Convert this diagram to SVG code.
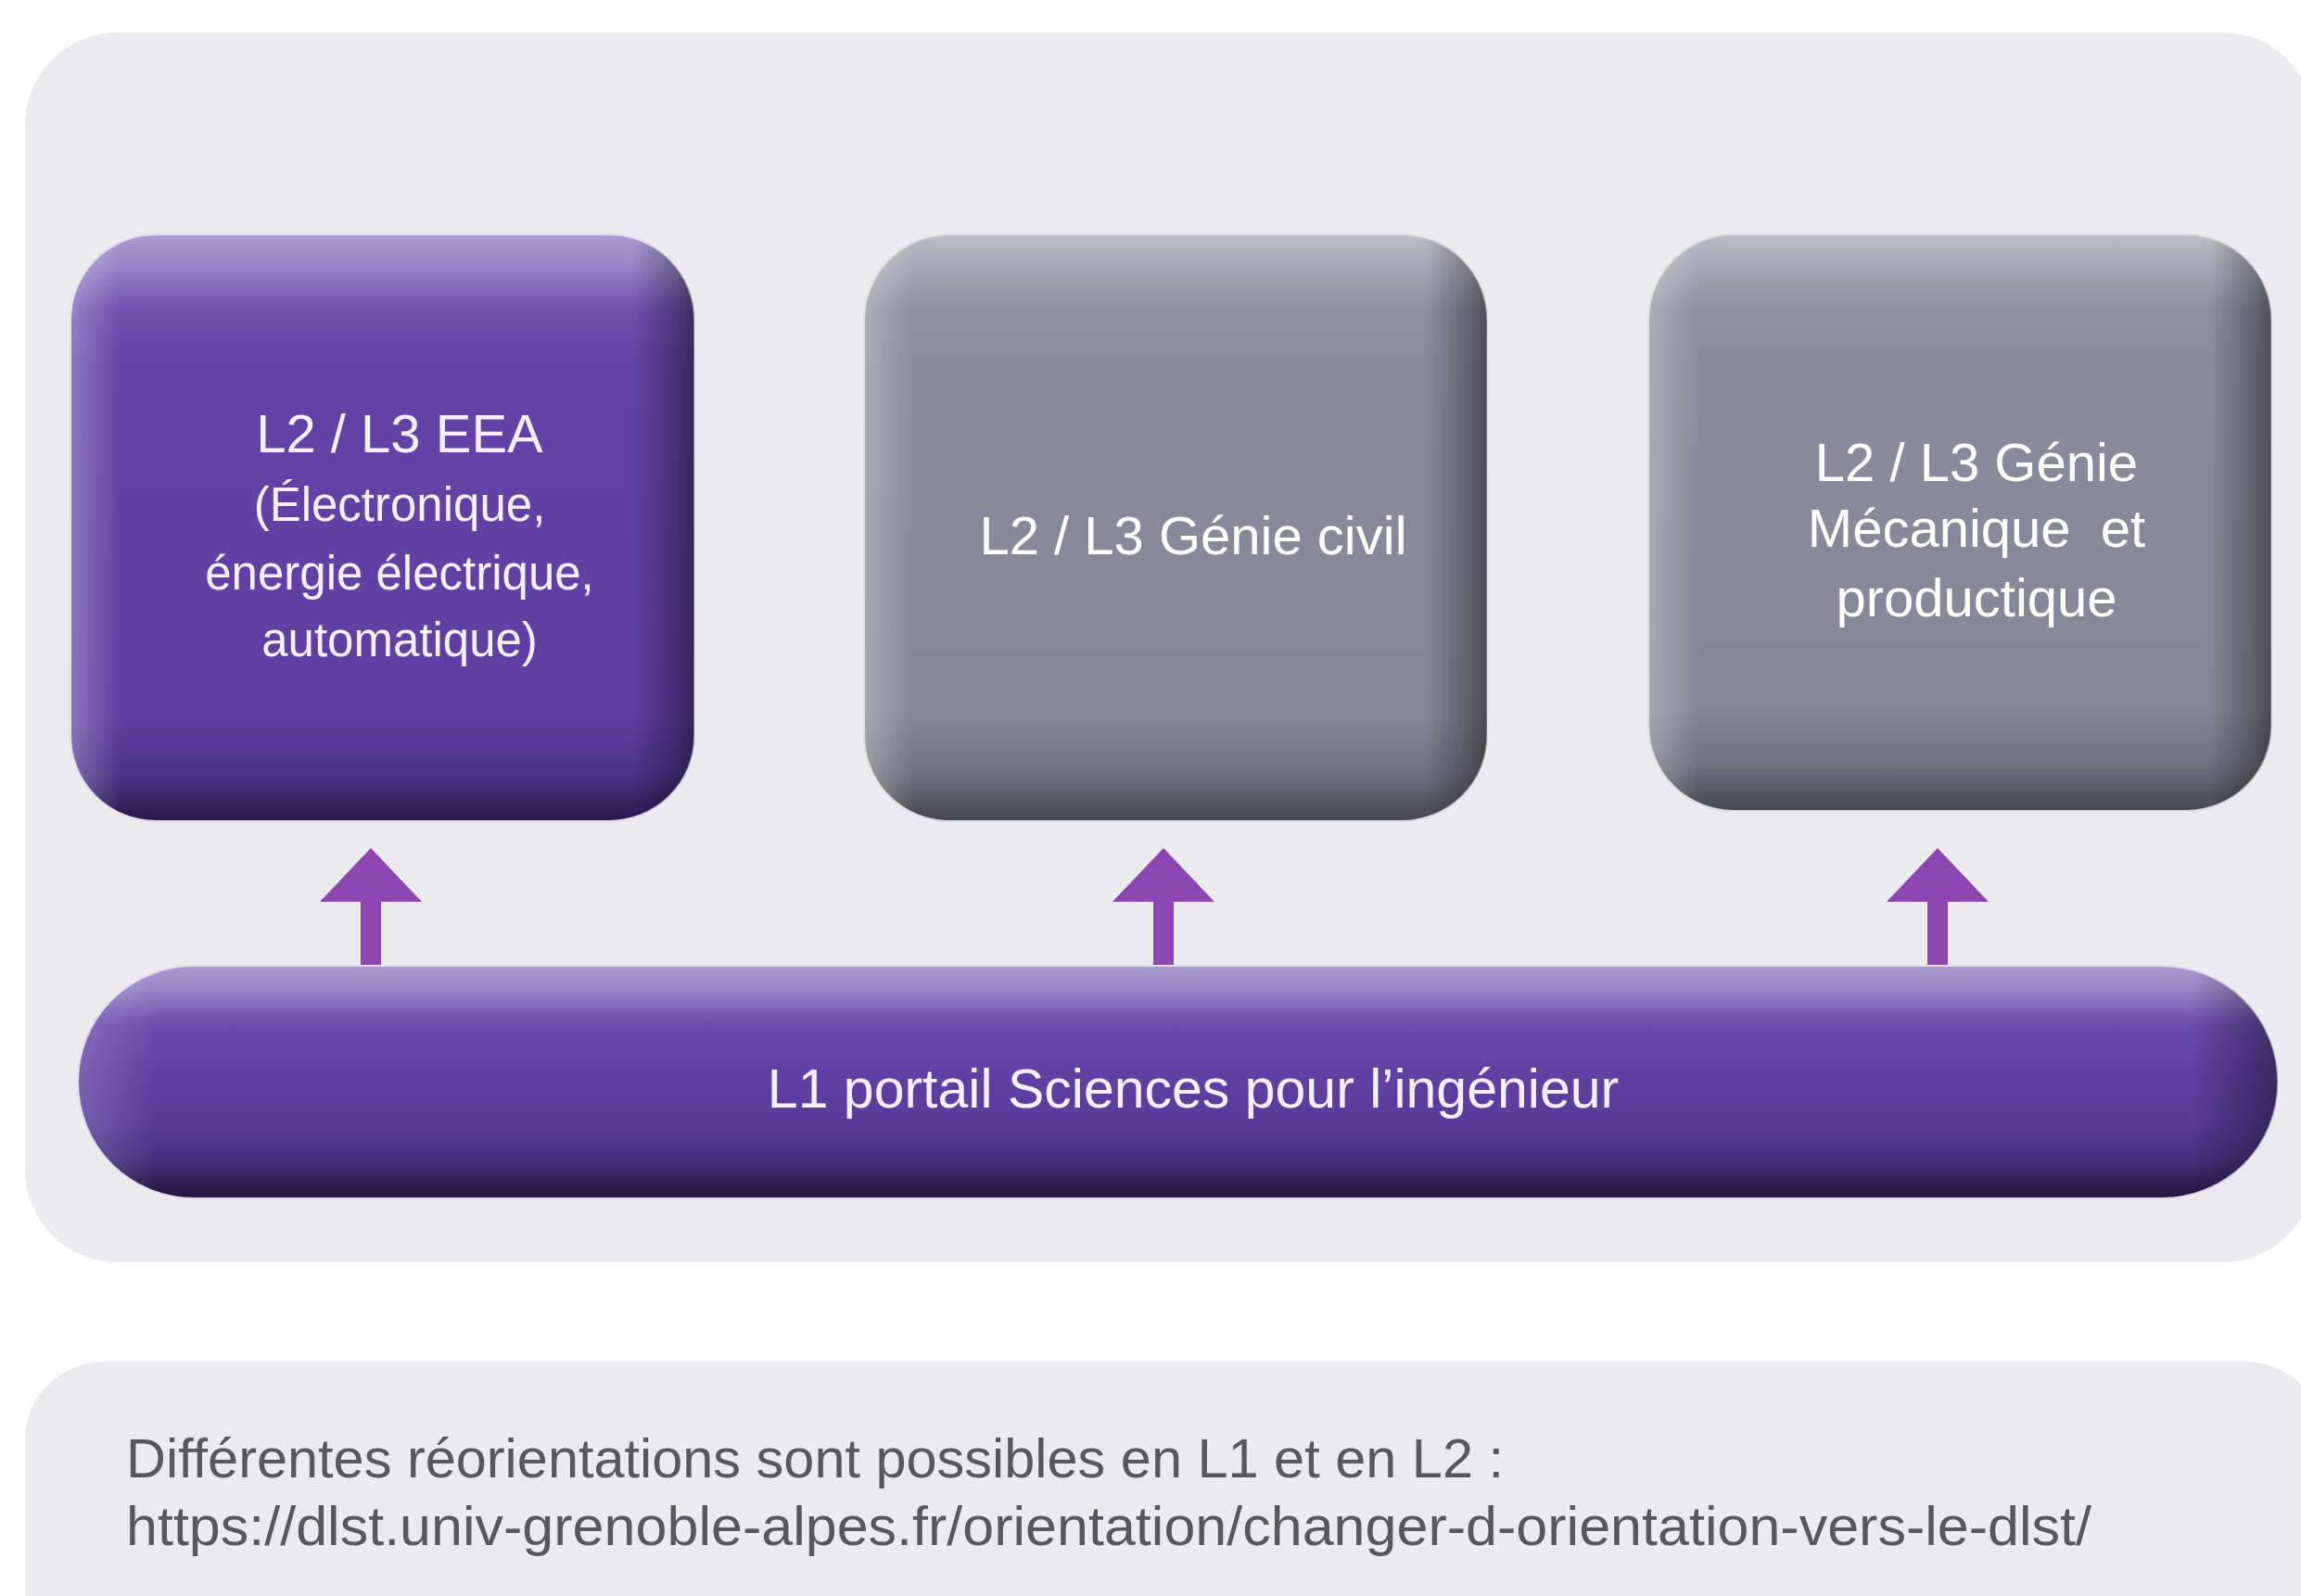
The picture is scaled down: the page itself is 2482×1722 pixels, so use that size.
<svg xmlns="http://www.w3.org/2000/svg" width="2482" height="1722" viewBox="0 0 2482 1722">
<style>
.lbl{font-family:"Liberation Sans",Arial,Helvetica,sans-serif;text-anchor:middle}
.pl{fill:#f4effb}
.gl{fill:#ffffff}
.note{font-family:"Liberation Sans",Arial,Helvetica,sans-serif;fill:#58585b;font-size:59px}
.arrow{fill:#8d45b1}
.panel{fill:#ebebed}
</style>
<defs>
<linearGradient id="pv" x1="0" y1="0" x2="0" y2="1">
<stop offset="0" stop-color="#ab9dd0"/>
<stop offset="0.05" stop-color="#9a86c8"/>
<stop offset="0.13" stop-color="#6e50ae"/>
<stop offset="0.22" stop-color="#6344a6"/>
<stop offset="0.82" stop-color="#5f3fa2"/>
<stop offset="0.92" stop-color="#4c3388"/>
<stop offset="1" stop-color="#2a1848"/>
</linearGradient>
<linearGradient id="gv" x1="0" y1="0" x2="0" y2="1">
<stop offset="0" stop-color="#bcbdc8"/>
<stop offset="0.05" stop-color="#a9aab7"/>
<stop offset="0.13" stop-color="#8e8fa0"/>
<stop offset="0.22" stop-color="#8a8b9c"/>
<stop offset="0.82" stop-color="#858696"/>
<stop offset="0.92" stop-color="#707180"/>
<stop offset="1" stop-color="#46464f"/>
</linearGradient>
<linearGradient id="hv" x1="0" y1="0" x2="1" y2="0">
<stop offset="0" stop-color="#ffffff" stop-opacity="0.28"/>
<stop offset="0.08" stop-color="#ffffff" stop-opacity="0"/>
<stop offset="0.9" stop-color="#000000" stop-opacity="0"/>
<stop offset="0.97" stop-color="#000000" stop-opacity="0.28"/>
<stop offset="1" stop-color="#000000" stop-opacity="0.45"/>
</linearGradient>
<linearGradient id="barv" x1="0" y1="0" x2="0" y2="1">
<stop offset="0" stop-color="#ab9dcf"/>
<stop offset="0.1" stop-color="#9a86c7"/>
<stop offset="0.25" stop-color="#6c4dad"/>
<stop offset="0.45" stop-color="#6141a3"/>
<stop offset="0.68" stop-color="#583b99"/>
<stop offset="0.84" stop-color="#45307c"/>
<stop offset="1" stop-color="#22153d"/>
</linearGradient>
<linearGradient id="barh" x1="0" y1="0" x2="1" y2="0">
<stop offset="0" stop-color="#ffffff" stop-opacity="0.18"/>
<stop offset="0.035" stop-color="#ffffff" stop-opacity="0"/>
<stop offset="0.96" stop-color="#000000" stop-opacity="0"/>
<stop offset="0.99" stop-color="#000000" stop-opacity="0.3"/>
<stop offset="1" stop-color="#000000" stop-opacity="0.4"/>
</linearGradient>
</defs>
<rect width="2482" height="1722" fill="#ffffff"/>
<rect class="panel" x="27" y="35" width="2470" height="1327" rx="100"/>
<rect class="panel" x="27" y="1469" width="2480" height="400" rx="85"/>

<g id="connectors">
<polygon class="arrow" points="400,915 455,973 411,973 411,1043 389,1043 389,973 345,973"/>
<polygon class="arrow" points="1255,915 1310,973 1266,973 1266,1043 1244,1043 1244,973 1200,973"/>
<polygon class="arrow" points="2090,915 2145,973 2101,973 2101,1043 2079,1043 2079,973 2035,973"/>
</g>

<g id="node-eea">
<rect x="76" y="253" width="673" height="633" rx="92" fill="url(#pv)" stroke="#e2dcef" stroke-width="2"/>
<rect x="76" y="253" width="673" height="633" rx="92" fill="url(#hv)"/>
<text class="lbl pl" x="431" y="488" font-size="58">L2 / L3 EEA</text>
<text class="lbl pl" x="431" y="562" font-size="51">(Électronique,</text>
<text class="lbl pl" x="431" y="636" font-size="51">énergie électrique,</text>
<text class="lbl pl" x="431" y="708" font-size="51">automatique)</text>
</g>

<g id="node-gc">
<rect x="932" y="253" width="672" height="633" rx="92" fill="url(#gv)" stroke="#dcdde3" stroke-width="2"/>
<rect x="932" y="253" width="672" height="633" rx="92" fill="url(#hv)"/>
<text class="lbl gl" x="1287" y="598" font-size="58">L2 / L3 Génie civil</text>
</g>

<g id="node-gm">
<rect x="1778" y="253" width="672" height="622" rx="92" fill="url(#gv)" stroke="#dcdde3" stroke-width="2"/>
<rect x="1778" y="253" width="672" height="622" rx="92" fill="url(#hv)"/>
<text class="lbl gl" x="2132" y="519" font-size="58">L2 / L3 Génie</text>
<text class="lbl gl" x="2132" y="590" font-size="58">Mécanique&#160; et</text>
<text class="lbl gl" x="2132" y="665" font-size="58">productique</text>
</g>

<g id="node-l1">
<rect x="84" y="1042" width="2373" height="251" rx="125" fill="url(#barv)" stroke="#e2dcef" stroke-width="2"/>
<rect x="84" y="1042" width="2373" height="251" rx="125" fill="url(#barh)"/>
<text class="lbl pl" x="1287" y="1195" font-size="59">L1 portail Sciences pour l’ingénieur</text>
</g>

<g id="note">
<text class="note" x="136" y="1594" textLength="1486" lengthAdjust="spacingAndGlyphs">Différentes réorientations sont possibles en L1 et en L2 :</text>
<text class="note" x="136" y="1667" textLength="2120" lengthAdjust="spacingAndGlyphs">https://dlst.univ-grenoble-alpes.fr/orientation/changer-d-orientation-vers-le-dlst/</text>
</g>
</svg>
